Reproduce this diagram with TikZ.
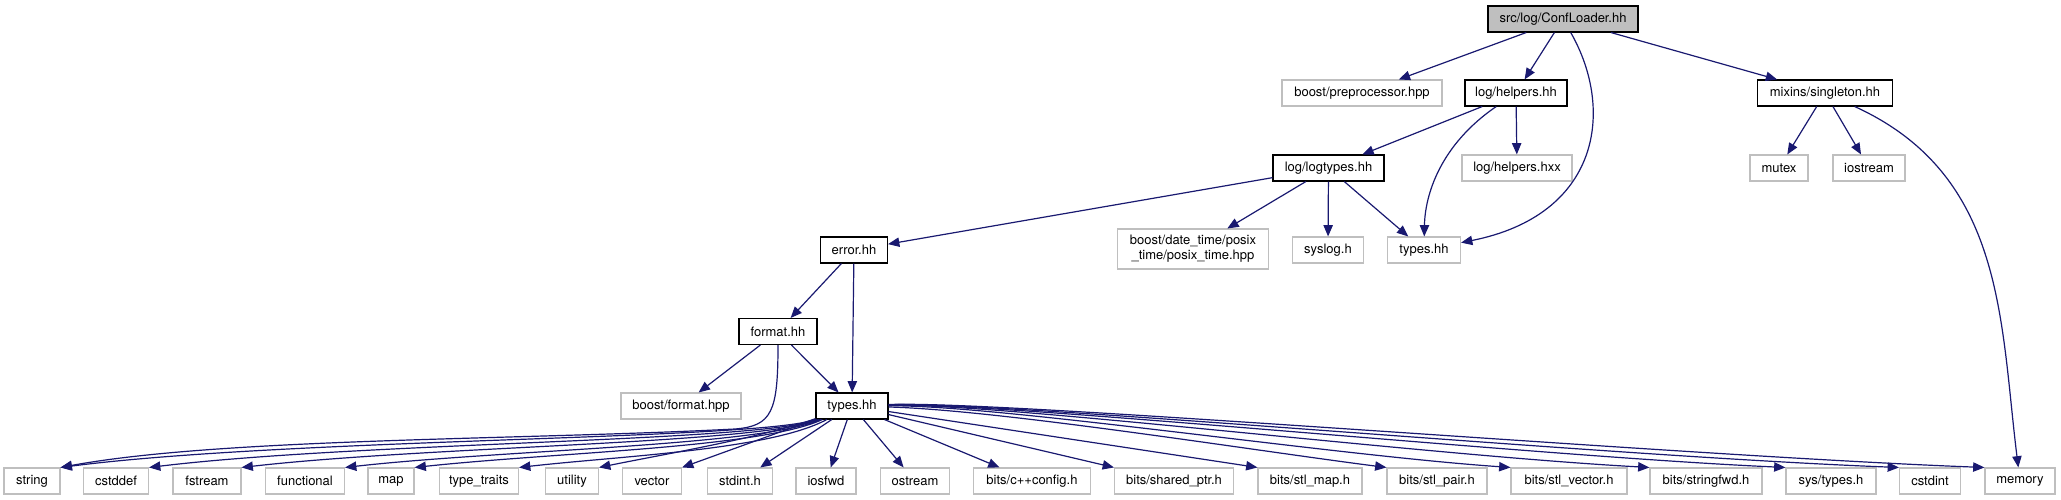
\documentclass[tikz,border=0pt]{standalone}
\usepackage{fontspec}
\setmainfont{TeX Gyre Heros}
\usetikzlibrary{arrows.meta}
\definecolor{edgeblue}{HTML}{191970}
\definecolor{incgray}{HTML}{BFBFBF}

\begin{document}
\begin{tikzpicture}[x=0.75pt, y=-0.75pt,
    font=\fontsize{9.75}{11}\selectfont,
    file/.style={draw=incgray, line width=0.8pt, inner sep=0pt, minimum height=19.5pt, minimum width=#1*0.75pt},
    hdr/.style={file=#1, draw=black},
    inc/.style={draw=edgeblue, line width=0.9pt, -{Triangle[length=8.5pt,width=7pt]}}]
    \useasboundingbox (0,0) rectangle (2061,500);

    % top levels
    \node (conf) at (1563,19) [hdr=150, fill=incgray] {src/log/ConfLoader.hh};
    \node (prep) at (1362,93) [file=160] {boost/preprocessor.hpp};
    \node (helpers) at (1516,93) [hdr=102] {log/helpers.hh};
    \node (singleton) at (1825,93) [hdr=135] {mixins/singleton.hh};
    \node (logtypes) at (1328.5,168) [hdr=111] {log/logtypes.hh};
    \node (hxx) at (1517,168) [file=110] {log/helpers.hxx};
    \node (mutex) at (1779,168) [file=58] {mutex};
    \node (iostream) at (1869,168) [file=72] {iostream};
    \node (error) at (854,250) [hdr=67] {error.hh};
    \node (datetime) at (1193,249) [file=151, minimum height=30pt, align=center] {boost/date\_time/posix\\\_time/posix\_time.hpp};
    \node (syslog) at (1328,250) [file=71] {syslog.h};
    \node (logtypeshh) at (1424,250) [file=73] {types.hh};
    \node (format) at (778,331.5) [hdr=78] {format.hh};
    \node (bformat) at (681,406) [file=120] {boost/format.hpp};
    \node (types) at (852,406) [hdr=72] {types.hh};

    % bottom row
    \node (string) at (32,481) [file=56] {string};
    \node (cstddef) at (116,481) [file=65] {cstddef};
    \node (fstream) at (207,481) [file=68] {fstream};
    \node (functional) at (305,481) [file=79] {functional};
    \node (map) at (391,481) [file=46] {map};
    \node (traits) at (479,481) [file=79] {type\_traits};
    \node (utility) at (572,481) [file=53] {utility};
    \node (vector) at (652,481) [file=59] {vector};
    \node (stdint) at (740,481) [file=65] {stdint.h};
    \node (iosfwd) at (826,481) [file=60] {iosfwd};
    \node (ostream) at (915,481) [file=69] {ostream};
    \node (config) at (1032,481) [file=117] {bits/c++config.h};
    \node (sharedptr) at (1174,481) [file=119] {bits/shared\_ptr.h};
    \node (stlmap) at (1310,481) [file=104] {bits/stl\_map.h};
    \node (stlpair) at (1437,481) [file=100] {bits/stl\_pair.h};
    \node (stlvector) at (1569,481) [file=116] {bits/stl\_vector.h};
    \node (stringfwd) at (1706,481) [file=112] {bits/stringfwd.h};
    \node (systypes) at (1831,481) [file=90] {sys/types.h};
    \node (cstdint) at (1930,481) [file=61] {cstdint};
    \node (memory) at (2020,481) [file=70] {memory};

    % includes of the upper files
    \draw[inc] (conf) -- (prep);
    \draw[inc] (conf) -- (helpers);
    \draw[inc] (conf) -- (singleton);
    \draw[inc] (conf) .. controls (1615,110) and (1600,215) .. (logtypeshh);
    \draw[inc] (helpers) -- (logtypes);
    \draw[inc] (helpers) -- (hxx);
    \draw[inc] (helpers) .. controls (1440,145) and (1425,195) .. (logtypeshh);
    \draw[inc] (singleton) -- (mutex);
    \draw[inc] (singleton) -- (iostream);
    \draw[inc] (singleton) .. controls (2005,175) and (2000,320) .. (memory);
    \draw[inc] (logtypes) -- (error);
    \draw[inc] (logtypes) -- (datetime);
    \draw[inc] (logtypes) -- (syslog);
    \draw[inc] (logtypes) -- (logtypeshh);
    \draw[inc] (error) -- (format);
    \draw[inc] (error) -- (types);
    \draw[inc] (format) -- (bformat);
    \draw[inc] (format) -- (types);
    \draw[inc] (format.south) .. controls (778,412) and (772,426) .. (735,429)
        .. controls (520,440) and (220,438) .. (string.north east);

    % includes of types.hh
    \draw[inc] (types) .. controls (760,440) and (290,438) .. (string.north east);
    \draw[inc] (types) .. controls (760,442) and (360,442) .. (cstddef.north east);
    \draw[inc] (types) .. controls (760,444) and (430,446) .. (fstream.north east);
    \draw[inc] (types) .. controls (760,446) and (500,450) .. (functional.north east);
    \draw[inc] (types) .. controls (760,448) and (560,452) .. (map.north east);
    \draw[inc] (types) .. controls (770,450) and (620,456) .. (traits.north east);
    \draw[inc] (types) .. controls (760,438) and (660,455) .. (utility.north east);
    \draw[inc] (types) -- (vector.north east);
    \draw[inc] (types) -- (stdint);
    \draw[inc] (types) -- (iosfwd);
    \draw[inc] (types) -- (ostream);
    \draw[inc] (types) -- (config);
    \draw[inc] (types) -- (sharedptr.north west);
    \draw[inc] (types) -- (stlmap.north west);
    \draw[inc] (types) .. controls (1000,410) and (1250,450) .. (stlpair.north west);
    \draw[inc] (types) .. controls (1000,405) and (1330,455) .. (stlvector.north west);
    \draw[inc] (types) .. controls (1000,403) and (1420,455) .. (stringfwd.north west);
    \draw[inc] (types) .. controls (1000,402) and (1530,456) .. (systypes.north west);
    \draw[inc] (types) .. controls (1000,401) and (1600,456) .. (cstdint.north west);
    \draw[inc] (types) .. controls (1000,400) and (1680,456) .. (memory.north west);
\end{tikzpicture}
\end{document}
